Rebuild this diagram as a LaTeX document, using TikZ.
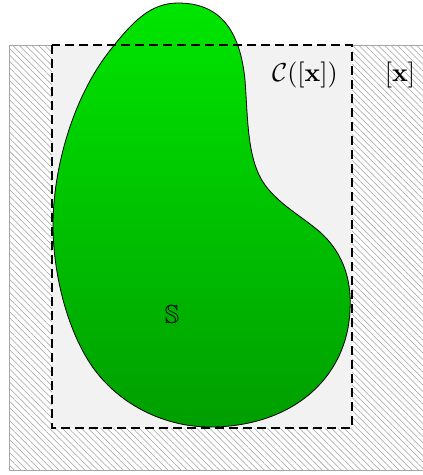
\documentclass[tikz,border=0pt]{standalone}
\usepackage{amsmath,amssymb}
\usetikzlibrary{patterns.meta}
\definecolor{blobtop}{RGB}{0,230,0}
\definecolor{blobbot}{RGB}{0,158,0}
\definecolor{innerfill}{RGB}{242,242,242}
\tikzset{
  outerbox/.style={draw=gray!70, line width=0.5pt, fill=white,
    pattern={Lines[angle=-45,distance=3.4pt,line width=0.4pt]}, pattern color=gray!75},
  innerbox/.style={fill=innerfill},
  dashbox/.style={draw=black, line width=2.2pt, dash pattern=on 6.5pt off 4pt},
  blobstyle/.style={draw=black, line width=0.6pt, top color=blobtop, bottom color=blobbot},
  lbl/.style={inner sep=0pt, scale=1.95}
}
\begin{document}
\begin{tikzpicture}[x=0.75pt,y=-0.75pt]
\useasboundingbox (0,0) rectangle (422,475);
\path[outerbox] (9,45) rectangle (432,470);
\path[innerbox] (52,45) rectangle (352,428);
\path[blobstyle] (178,3)
  .. controls (220,3) and (240,30) .. (245,80)
  .. controls (248,120) and (247,160) .. (265,185)
  .. controls (280,205) and (300,215) .. (320,232)
  .. controls (340,250) and (352,275) .. (350,310)
  .. controls (347,380) and (290,427) .. (210,427)
  .. controls (160,427) and (110,400) .. (85,355)
  .. controls (65,320) and (53,270) .. (53,225)
  .. controls (53,170) and (72,100) .. (108,53)
  .. controls (132,22) and (150,3) .. (178,3) -- cycle;
\draw[dashbox] (52,45) rectangle (352,428);
\node[lbl] (cx) at (305,75) {$\mathcal{C}([\mathbf{x}])$};
\node[lbl] (x) at (400,75) {$[\mathbf{x}]$};
\node[lbl] (s) at (172,315) {$\mathbb{S}$};
\end{tikzpicture}
\end{document}
